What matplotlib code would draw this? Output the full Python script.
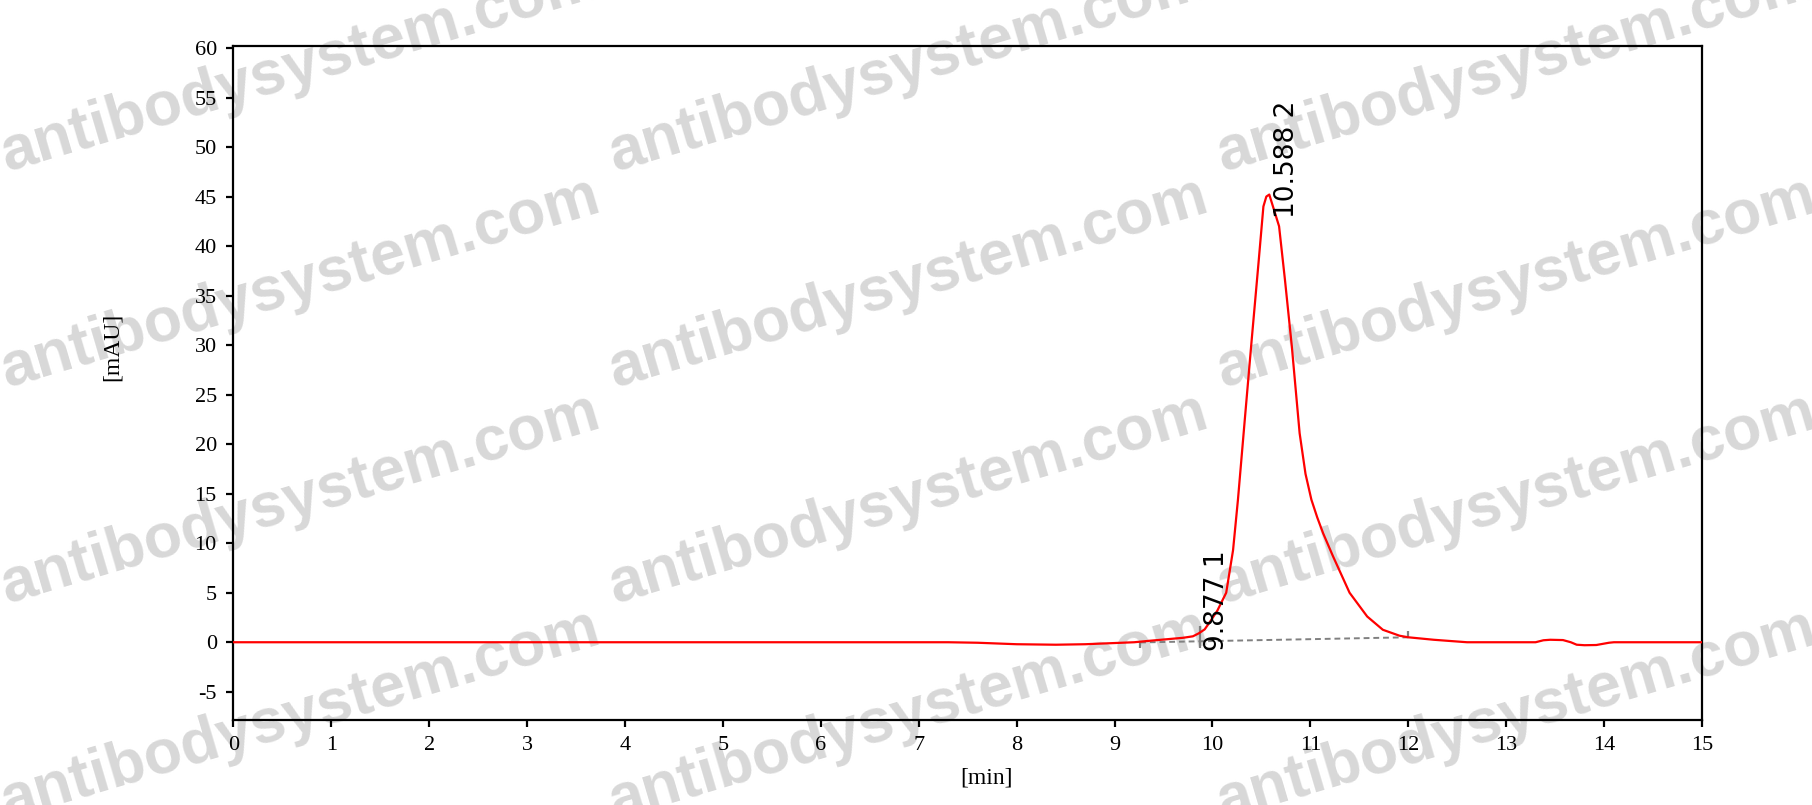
import matplotlib
matplotlib.use("Agg")
import matplotlib.pyplot as plt

plt.rcParams["axes.unicode_minus"] = False

# chromatogram trace (time in min, signal in mAU)
time_min = [0.0, 1.0, 2.0, 3.0, 4.0, 5.0, 6.0, 7.0, 7.3, 7.6, 8.0, 8.4, 8.7,
            9.0, 9.2, 9.36, 9.53, 9.7, 9.8, 9.86, 9.92, 9.97, 10.05, 10.14,
            10.21, 10.26, 10.33, 10.40, 10.47, 10.52, 10.55, 10.58, 10.68,
            10.74, 10.81, 10.85, 10.89, 10.95, 11.01, 11.07, 11.13, 11.23,
            11.40, 11.58, 11.74, 11.91, 12.0, 12.26, 12.6, 13.3, 13.38, 13.45,
            13.58, 13.66, 13.72, 13.8, 13.92, 14.05, 14.1, 15.0]
signal_mau = [0.0, 0.0, 0.0, 0.0, 0.0, 0.0, 0.0, 0.0, 0.0, -0.05, -0.2, -0.25,
              -0.2, -0.08, 0.0, 0.15, 0.3, 0.45, 0.6, 0.9, 1.3, 2.0, 3.2, 5.0,
              9.3, 14.4, 22.5, 30.5, 38.3, 44.0, 45.0, 45.2, 42.0, 36.6, 29.9,
              25.5, 21.1, 17.0, 14.4, 12.6, 11.0, 8.7, 5.0, 2.6, 1.26, 0.66,
              0.5, 0.25, 0.0, 0.0, 0.2, 0.25, 0.22, 0.0, -0.25, -0.3, -0.28,
              -0.05, 0.0, 0.0]

# integration baseline and peak marks
baseline_t = [9.26, 12.0]
baseline_y = [-0.02, 0.5]
mark_t = [9.26, 9.877, 12.0]
mark_lo = [-0.6, -0.6, 0.42]
mark_hi = [0.08, 1.6, 1.1]

peak_labels = ["9.877 1", "10.588 2"]
peak_label_t = [10.05, 10.76]
peak_label_y = [-0.9, 42.8]

xticks = list(range(0, 16))
yticks = list(range(-5, 61, 5))

wm_x = [300, 908, 1516]
wm_y = [67, 283, 499, 715]

W, H = 1812, 805
fig = plt.figure(figsize=(W / 100, H / 100), dpi=100)

# watermark behind everything
for cx in wm_x:
    for cy in wm_y:
        fig.text(cx / W, 1 - cy / H, "antibodysystem.com", fontsize=45,
                 family="Liberation Sans", weight="bold", color="#d8d8d8",
                 rotation=16.5, ha="center", va="center",
                 rotation_mode="anchor", zorder=-1)

ax = fig.add_axes([233.5 / W, (H - 719.5) / H, (1702 - 233.5) / W, (719.5 - 46) / H])
ax.patch.set_alpha(0)

ax.plot(time_min, signal_mau, color="#ff0000", lw=1.6, zorder=3)
ax.plot(baseline_t, baseline_y, color="#808080", lw=1.4, ls=(0, (3, 2)), zorder=2)
ax.vlines(mark_t, mark_lo, mark_hi, color="#808080", lw=1.6, zorder=2)

for lab, t, y in zip(peak_labels, peak_label_t, peak_label_y):
    ax.text(t, y, lab, rotation=90, ha="center", va="bottom", fontsize=19,
            family="DejaVu Sans", color="black")

ax.set_xlim(0, 15)
ax.set_ylim(-7.8, 60.2)
ax.set_xticks(xticks)
ax.set_yticks(yticks)
ax.tick_params(direction="out", length=5, width=1.6, labelsize=16, pad=7)
for lbl in ax.get_xticklabels() + ax.get_yticklabels():
    lbl.set_family("Liberation Serif")
for sp in ax.spines.values():
    sp.set_linewidth(1.6)

fig.text(112 / W, 1 - 347 / H, "[mAU]", rotation=90, ha="center", va="center",
         fontsize=17, family="Liberation Serif")
fig.text(986 / W, 1 - 778 / H, "[min]", ha="center", va="center",
         fontsize=17, family="Liberation Serif")

fig.savefig("out.png", dpi=100)
